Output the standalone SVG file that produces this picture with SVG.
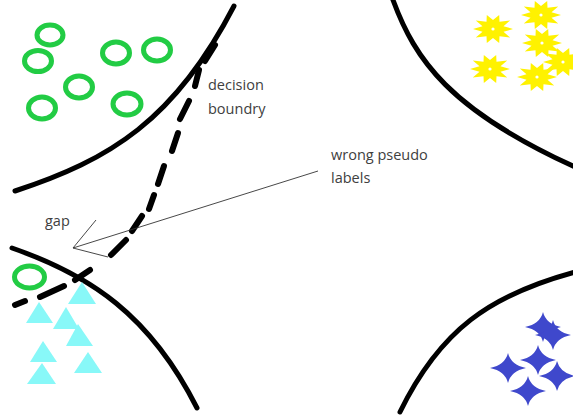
<svg xmlns="http://www.w3.org/2000/svg" xmlns:xlink="http://www.w3.org/1999/xlink" width="573" height="419" viewBox="0 0 573 419">
<style>
.curve{fill:none;stroke:#000;stroke-width:5;stroke-linecap:round}
.dash{fill:none;stroke:#000;stroke-width:6;stroke-linecap:round}
.ptr{fill:none;stroke:#333;stroke-width:0.9}
.ring{fill:none;stroke:#22cc44;stroke-width:5}
.tri{fill:#88f8f8}
.ystar{fill:#fff200}
.bstar{fill:#3f48cc}
.lbl{font-family:"Open Sans","Noto Sans",sans-serif;font-size:14.5px;fill:#404040}
</style>
<defs>
<g id="yst">
<polygon points="20,0 10.5,2.8 17.2,8.6 6.5,7.3 6.2,14 0,9 -6.2,14 -6.5,7.3 -17.2,8.6 -10.5,2.8 -20,0 -10.5,-2.8 -17.2,-8.6 -6.5,-7.3 -6.2,-14 0,-9 6.2,-14 6.5,-7.3 17.2,-8.6 10.5,-2.8"/>
<circle r="1.6" fill="#fff"/>
</g>
<path id="bst" d="M0,-15 Q3,-3 18,0 Q3,3 0,15 Q-3,3 -18,0 Q-3,-3 0,-15 Z"/>
</defs>
<rect width="573" height="419" fill="#fff"/>
<g id="boundaries">
<path class="curve" d="M15,191 C110,160 175,120 234,6"/>
<path class="curve" d="M393,0 C415,60 450,110 575,167"/>
<path class="curve" d="M12,248 C90,275 150,315 197,408"/>
<path class="curve" d="M400,412 C440,330 490,295 575,272"/>
</g>
<g id="class-circles">
<ellipse class="ring" cx="50" cy="35" rx="13" ry="10"/>
<ellipse class="ring" cx="38" cy="61" rx="13.5" ry="10.5"/>
<ellipse class="ring" cx="116" cy="53" rx="13.5" ry="11"/>
<ellipse class="ring" cx="157" cy="50" rx="13.5" ry="11"/>
<ellipse class="ring" cx="79" cy="87" rx="13.5" ry="11"/>
<ellipse class="ring" cx="42" cy="108" rx="13.5" ry="11"/>
<ellipse class="ring" cx="127" cy="104" rx="14" ry="11"/>
<ellipse class="ring" cx="29.5" cy="277" rx="15" ry="11"/>
</g>
<g id="class-triangles">
<polygon class="tri" points="82,282 68,304 96,304"/>
<polygon class="tri" points="39,302 26,323 53,323"/>
<polygon class="tri" points="66,307 53,329 79,329"/>
<polygon class="tri" points="78,324 66,346 93,346"/>
<polygon class="tri" points="43,341 30,362 57,362"/>
<polygon class="tri" points="88,352 74,373 102,373"/>
<polygon class="tri" points="42,363 27,384 56,384"/>
</g>
<g id="class-yellow-stars" class="ystar">
<use xlink:href="#yst" x="493" y="29"/>
<use xlink:href="#yst" x="541" y="15"/>
<use xlink:href="#yst" x="542" y="43"/>
<use xlink:href="#yst" x="490" y="69"/>
<use xlink:href="#yst" x="537" y="77"/>
<use xlink:href="#yst" x="563" y="62"/>
</g>
<g id="class-blue-stars" class="bstar">
<use xlink:href="#bst" x="543" y="327"/>
<use xlink:href="#bst" x="553" y="335"/>
<use xlink:href="#bst" x="538" y="360"/>
<use xlink:href="#bst" x="508" y="368"/>
<use xlink:href="#bst" x="557" y="376"/>
<use xlink:href="#bst" x="528" y="391"/>
</g>
<g id="connectors">
<g id="decision-boundary-dashed">
<line class="dash" x1="215" y1="45" x2="205" y2="61"/>
<line class="dash" x1="199" y1="70" x2="195" y2="86"/>
<line class="dash" x1="189" y1="101" x2="180" y2="119"/>
<line class="dash" x1="178" y1="133" x2="172" y2="151"/>
<line class="dash" x1="164" y1="166" x2="158" y2="184"/>
<line class="dash" x1="154" y1="195" x2="149" y2="209"/>
<line class="dash" x1="142" y1="216" x2="132" y2="231"/>
<line class="dash" x1="126" y1="240" x2="111" y2="255"/>
<line class="dash" x1="15" y1="305" x2="25" y2="301"/>
<line class="dash" x1="40" y1="297" x2="64" y2="286"/>
<line class="dash" x1="75" y1="280" x2="90" y2="270"/>
</g>
<g id="pointers">
<line class="ptr" x1="96" y1="220" x2="73" y2="248"/>
<line class="ptr" x1="73" y1="248" x2="318" y2="171"/>
<line class="ptr" x1="73" y1="248" x2="108" y2="257"/>
</g>
</g>
<g id="label-decision">
<text class="lbl" x="208" y="90">decision</text>
<text class="lbl" x="208" y="114">boundry</text>
</g>
<g id="label-wrong">
<text class="lbl" x="331" y="160">wrong pseudo</text>
<text class="lbl" x="331" y="183">labels</text>
</g>
<g id="label-gap">
<text class="lbl" x="45" y="226">gap</text>
</g>
</svg>
